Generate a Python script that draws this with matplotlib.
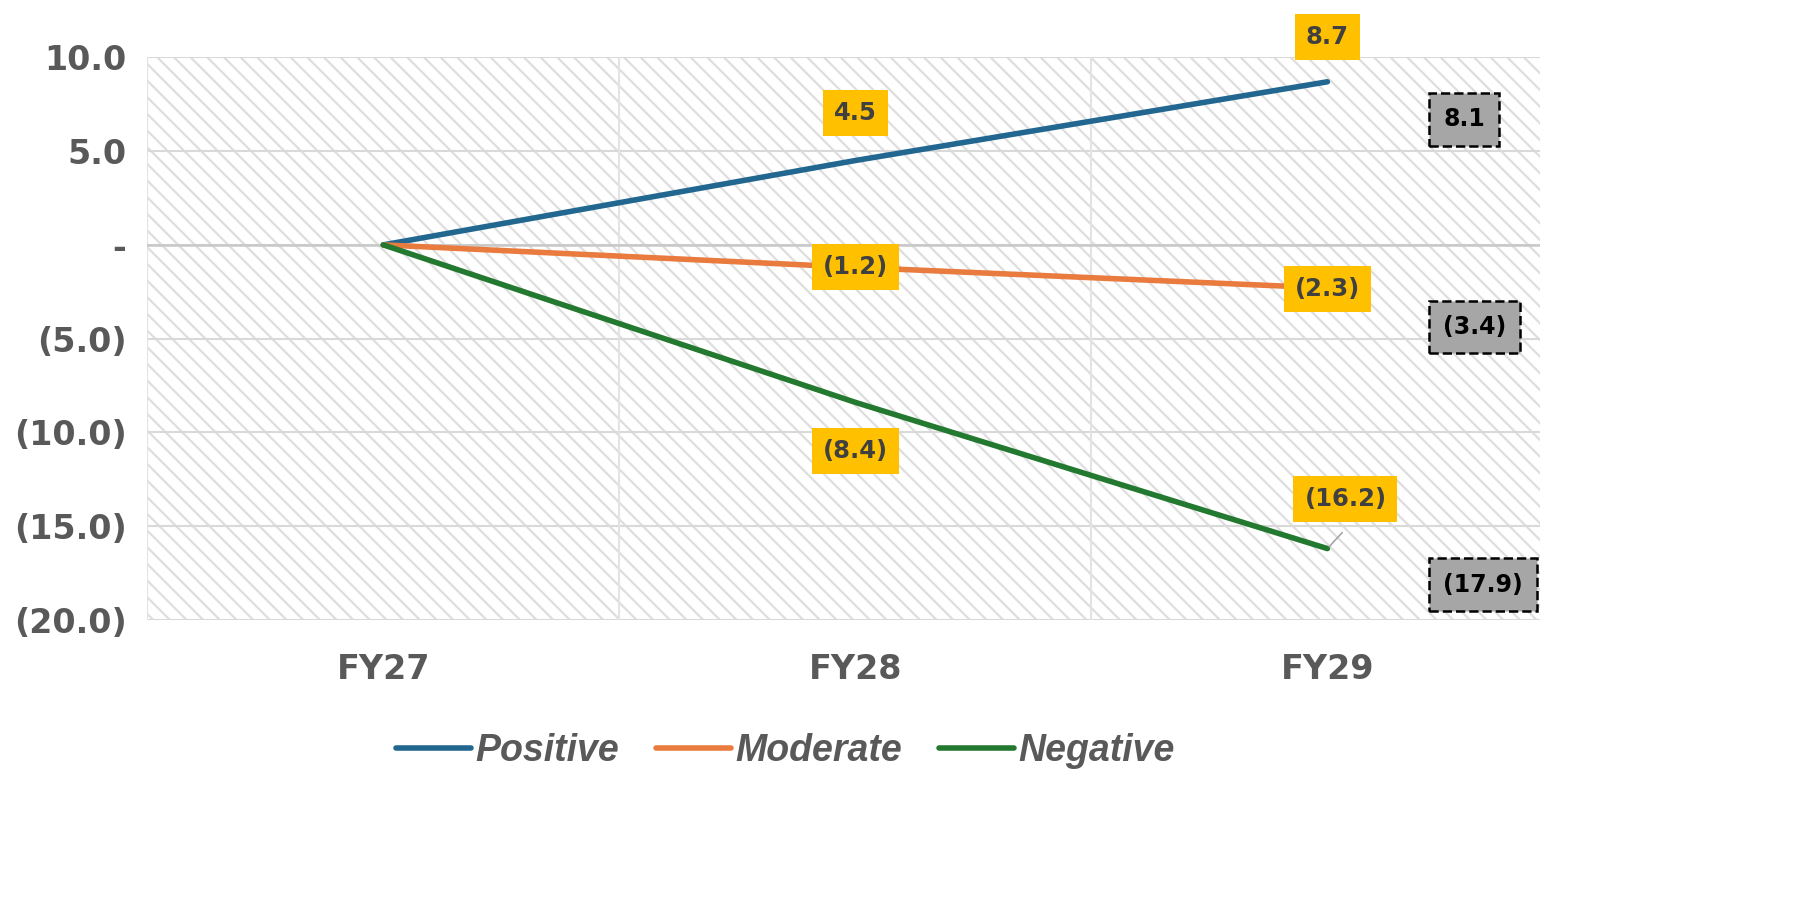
import numpy as np
import matplotlib.pyplot as plt
from matplotlib.patches import Rectangle

# dados do gráfico
anos = ['FY27', 'FY28', 'FY29']
positivo = [0.0, 4.5, 8.7]
moderado = [0.0, -1.2, -2.3]
negativo = [0.0, -8.4, -16.2]
referencia = [8.1, -3.4, -17.9]  # caixas cinzas à direita
yticks = [10, 5, 0, -5, -10, -15, -20]

cores = {'Positive': '#21678F', 'Moderate': '#E97B3F', 'Negative': '#23792F'}
cinza_txt = '#595959'
amarelo = '#FFC000'

plt.rcParams['font.family'] = ['DejaVu Sans']
plt.rcParams['hatch.linewidth'] = 1.6
plt.rcParams['hatch.color'] = '#DEDEDE'

fig = plt.figure(figsize=(18.18, 8.97), dpi=100)
ax = fig.add_axes([0.081, 0.309, 0.766, 0.627])

x = np.arange(len(anos))
ax.set_xlim(-0.5, 2.45)
ax.set_ylim(-20, 10)

# fundo hachurado
ax.add_patch(Rectangle((0, 0), 1, 1, transform=ax.transAxes, facecolor='white',
                       edgecolor='#DEDEDE', hatch='\\\\', lw=0, zorder=0))

# grades
for yv in yticks:
    ax.axhline(yv, color='#D9D9D9', lw=1.5, zorder=1)
for xv in [-0.5, 0.5, 1.5]:
    ax.axvline(xv, color='#E3E3E3', lw=1.5, zorder=1)
ax.axhline(0, color='#C8C8C8', lw=1.8, zorder=1)

for nome, serie in [('Positive', positivo), ('Moderate', moderado), ('Negative', negativo)]:
    ax.plot(x, serie, color=cores[nome], lw=4, label=nome, zorder=3, solid_capstyle='round')


def fmt(v):
    if v < 0:
        return '(%.1f)' % abs(v)
    return '%.1f' % v


caixa_am = dict(boxstyle='square,pad=0.45', fc=amarelo, ec='none')
txt = dict(fontsize=17.5, fontweight='bold', color='#404040', ha='center', va='center', zorder=5)

# rótulos amarelos (deslocamentos em pontos)
offs = {
    ('Positive', 1): (0, 34), ('Positive', 2): (0, 32),
    ('Moderate', 1): (0, 0), ('Moderate', 2): (0, -1),
    ('Negative', 1): (0, -35), ('Negative', 2): (13, 36),
}
for nome, serie in [('Positive', positivo), ('Moderate', moderado), ('Negative', negativo)]:
    for i in [1, 2]:
        dx, dy = offs[(nome, i)]
        ax.annotate(fmt(serie[i]), (x[i], serie[i]), xytext=(dx, dy), textcoords='offset points',
                    bbox=caixa_am, annotation_clip=False, **txt)

# linha guia do (16.2)
ax.annotate('', (x[2], negativo[2]), xytext=(12, 13), textcoords='offset points',
            arrowprops=dict(arrowstyle='-', color='#A6A6A6', lw=1.2), zorder=4)

# caixas cinzas tracejadas
caixa_cz = dict(boxstyle='square,pad=0.6', fc='#A6A6A6', ec='black', ls='--', lw=1.8)
offs_cz = [-19, -13, -3]
for v, dy in zip(referencia, offs_cz):
    ax.annotate(fmt(v), (2.245, v), xytext=(0, dy), textcoords='offset points',
                bbox=caixa_cz, annotation_clip=False, fontsize=17, fontweight='bold',
                color='black', ha='left', va='center', zorder=5)

ax.set_xticks(x)
ax.set_xticklabels(anos)
ax.set_yticks(yticks)
ax.set_yticklabels([fmt(v) if v != 0 else '-' for v in yticks])
ax.tick_params(length=0, labelsize=24, labelcolor=cinza_txt, pad=15)
ax.tick_params(axis='x', pad=24)
for lbl in ax.get_xticklabels() + ax.get_yticklabels():
    lbl.set_fontweight('bold')
for s in ax.spines.values():
    s.set_visible(False)

leg = fig.legend(loc='center', bbox_to_anchor=(0.432, 0.163), ncol=3, frameon=False,
                 handlelength=2.0, handletextpad=0.1, columnspacing=1.0,
                 prop=dict(family='Liberation Sans', size=27, weight='bold', style='italic'))
for t in leg.get_texts():
    t.set_color(cinza_txt)

fig.savefig('out.png', dpi=100)
